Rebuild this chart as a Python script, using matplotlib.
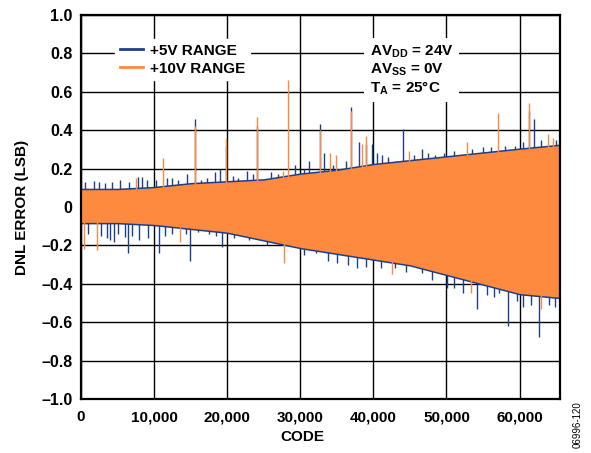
import numpy as np
import matplotlib
matplotlib.use("Agg")
import matplotlib.pyplot as plt
from matplotlib.ticker import FuncFormatter
from matplotlib.lines import Line2D

plt.rcParams["font.family"] = ["Liberation Sans", "DejaVu Sans"]
plt.rcParams["mathtext.fontset"] = "custom"
plt.rcParams["mathtext.rm"] = "Liberation Sans:bold"
plt.rcParams["mathtext.bf"] = "Liberation Sans:bold"

BLUE = "#1c3f8c"
ORANGE = "#fd8a3e"

# envelope of the dense DNL band
codes = [0, 5000, 10000, 15000, 20000, 25000, 30000, 35000, 40000,
         45000, 50000, 55000, 60000, 65535]
upper_10v = [0.09, 0.09, 0.10, 0.12, 0.13, 0.14, 0.17, 0.19, 0.22,
             0.24, 0.26, 0.28, 0.30, 0.32]
lower_10v = [-0.08, -0.08, -0.09, -0.11, -0.13, -0.17, -0.21, -0.24, -0.27,
             -0.30, -0.35, -0.40, -0.45, -0.47]
upper_5v = [0.098, 0.098, 0.108, 0.128, 0.138, 0.148, 0.178, 0.198, 0.228,
            0.248, 0.268, 0.288, 0.308, 0.328]
lower_5v = [-0.088, -0.088, -0.098, -0.118, -0.138, -0.178, -0.218, -0.248, -0.278,
            -0.308, -0.358, -0.408, -0.458, -0.478]

# isolated spikes sticking out of the band
spike_codes_5v = [550, 1800, 2500, 3300, 4200, 5300, 6500, 7800, 8400, 9000,
                  10300, 11800, 12400, 13300, 14550, 15550, 16400, 17300, 18300,
                  19050, 19870, 20800, 21500, 22700, 23500, 24050, 26000, 27000,
                  29300, 30500, 31250, 32700, 33200, 34500, 36250, 36900, 37970,
                  38980, 39800, 40560, 41250, 42000, 43150, 44070, 45500, 46700,
                  47500, 48500, 49660, 51000, 53500, 55000, 56030, 58000, 59440,
                  60500, 61260, 61940, 63000, 65000,
                  1000, 2800, 3500, 4000, 4500, 5000, 6000, 6450, 7000, 8000,
                  9200, 10700, 11500, 12500, 14400, 14970, 16000, 17500, 18500,
                  19330, 21000, 23000, 25500, 28300, 30500, 32150, 33740, 35000,
                  36500, 37700, 39000, 41000, 43000, 44500, 46600, 48000, 50100,
                  51000, 52250, 54120, 55500, 56500, 57150, 58400, 59660, 60500,
                  61500, 62720, 64000, 64800]
spike_vals_5v = [0.13, 0.135, 0.13, 0.125, 0.13, 0.14, 0.13, 0.155, 0.155, 0.14,
                 0.14, 0.15, 0.15, 0.14, 0.17, 0.46, 0.14, 0.15, 0.18,
                 0.20, 0.32, 0.16, 0.15, 0.19, 0.17, 0.42, 0.18, 0.17,
                 0.22, 0.20, 0.24, 0.43, 0.28, 0.22, 0.24, 0.52, 0.34,
                 0.33, 0.33, 0.28, 0.27, 0.26, 0.24, 0.405, 0.27, 0.30,
                 0.28, 0.27, 0.28, 0.29, 0.30, 0.31, 0.31, 0.32, 0.32,
                 0.34, 0.50, 0.46, 0.35, 0.35,
                 -0.14, -0.15, -0.16, -0.17, -0.18, -0.14, -0.155, -0.24, -0.15, -0.17,
                 -0.16, -0.24, -0.15, -0.14, -0.14, -0.28, -0.13, -0.14, -0.15,
                 -0.21, -0.16, -0.17, -0.20, -0.20, -0.25, -0.24, -0.28, -0.29,
                 -0.30, -0.32, -0.31, -0.32, -0.32, -0.34, -0.345, -0.38, -0.42,
                 -0.42, -0.45, -0.53, -0.46, -0.47, -0.45, -0.62, -0.49, -0.52,
                 -0.51, -0.675, -0.51, -0.52]
spike_codes_10v = [7500, 11230, 15550, 19870, 24050, 27700, 28380, 32700, 34100,
                   34900, 36900, 38400, 38980, 44900, 52840, 57030, 61260,
                   63900, 64530,
                   400, 2140, 13500, 27830, 42600, 53300, 63000]
spike_vals_10v = [0.15, 0.255, 0.42, 0.36, 0.47, 0.19, 0.66, 0.40, 0.28,
                  0.27, 0.50, 0.33, 0.37, 0.29, 0.34, 0.49, 0.54,
                  0.38, 0.36,
                  -0.22, -0.225, -0.18, -0.29, -0.35, -0.45, -0.53]

x_ticks = [0, 10000, 20000, 30000, 40000, 50000, 60000]
y_ticks = [-1.0, -0.8, -0.6, -0.4, -0.2, 0, 0.2, 0.4, 0.6, 0.8, 1.0]

fig = plt.figure(figsize=(5.91, 4.53), dpi=100)
ax = fig.add_axes([81 / 591, 1 - 399 / 453, 479 / 591, 384 / 453])

ax.fill_between(codes, lower_5v, upper_5v, color=BLUE, lw=0, zorder=2)
ax.vlines(spike_codes_5v, 0, spike_vals_5v, color=BLUE, lw=1.0, zorder=2)
ax.fill_between(codes, lower_10v, upper_10v, color=ORANGE, lw=0, zorder=3)
ax.vlines(spike_codes_10v, 0, spike_vals_10v, color=ORANGE, lw=1.0, zorder=3)

ax.set_xlim(0, 65535)
ax.set_ylim(-1.0, 1.0)
ax.set_xticks(x_ticks)
ax.set_yticks(y_ticks)
ax.xaxis.set_major_formatter(FuncFormatter(lambda v, p: f"{int(v):,}"))
ax.yaxis.set_major_formatter(
    FuncFormatter(lambda v, p: "0" if abs(v) < 1e-9 else f"{v:.1f}".replace("-", "\u2013")))
ax.tick_params(axis="y", length=0, pad=6, labelsize=11.5)
ax.tick_params(axis="x", length=0, pad=8, labelsize=11)
for lab in ax.get_xticklabels() + ax.get_yticklabels():
    lab.set_fontweight("bold")
ax.grid(True, color="black", lw=1.0, zorder=1)
ax.set_axisbelow(True)
for s in ax.spines.values():
    s.set_linewidth(1.6)
    s.set_zorder(5)

ax.set_xlabel("CODE", fontsize=11, fontweight="bold")
ax.xaxis.set_label_coords((302 - 81) / 479, -0.08)
ax.set_ylabel("DNL ERROR (LSB)", fontsize=11, fontweight="bold", labelpad=9)

handles = [Line2D([], [], color=BLUE, lw=2), Line2D([], [], color=ORANGE, lw=2)]
leg = ax.legend(handles, ["+5V RANGE", "+10V RANGE"], loc="upper left",
                bbox_to_anchor=(0.072, 0.937), frameon=True, fancybox=False,
                handlelength=1.5, handletextpad=0.45, labelspacing=0.25,
                prop={"weight": "bold", "size": 11}, borderpad=0.3,
                borderaxespad=0)
leg.get_frame().set_facecolor("white")
leg.get_frame().set_edgecolor("white")
leg.get_frame().set_alpha(1)
leg.set_zorder(6)

ax.text(0.603, 0.927,
        "AV$_{\\mathrm{DD}}$ = 24V\nAV$_{\\mathrm{SS}}$ = 0V\nT$_{\\mathrm{A}}$ = 25\u00b0C",
        transform=ax.transAxes, fontsize=11, fontweight="bold", va="top", ha="left",
        linespacing=1.1, zorder=6,
        bbox=dict(facecolor="white", edgecolor="none", pad=4))

fig.text(578 / 591, 1 - 425 / 453, "06996-120", rotation=90, fontsize=7,
         ha="center", va="center")

fig.savefig("out.png", dpi=100)
